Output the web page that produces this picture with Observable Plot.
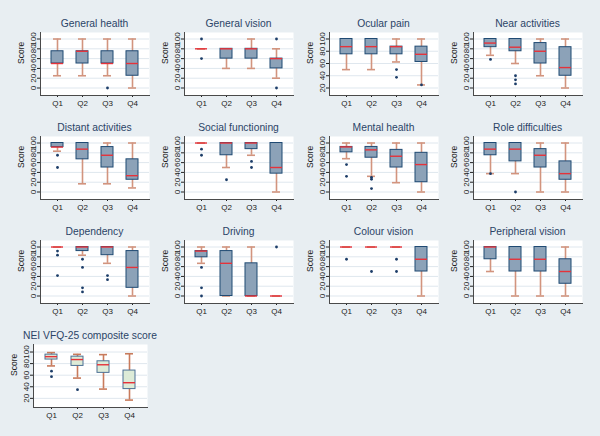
<!DOCTYPE html>
<html>
<head>
<meta charset="utf-8">
<script src="https://cdn.jsdelivr.net/npm/d3@7"></script>
<script src="https://cdn.jsdelivr.net/npm/@observablehq/plot@0.6"></script>
<style>
  body { margin: 0; background: #e8eef2; }
  #chart { position: relative; width: 600px; height: 436px; background: #e8eef2; overflow: hidden;
           font-family: "Liberation Sans", Arial, sans-serif; }
  .ttl { position: absolute; height: 17px; line-height: 17px; font-size: 10.3px; color: #2b4467;
         display: flex; justify-content: center; white-space: nowrap; }
  .pnl { position: absolute; }
</style>
</head>
<body>
<div id="chart"></div>
<script>
const titles = ["General health", "General vision", "Ocular pain", "Near activities",
  "Distant activities", "Social functioning", "Mental health", "Role difficulties",
  "Dependency", "Driving", "Colour vision", "Peripheral vision", "NEI VFQ-25 composite score"];
const quartiles = ["Q1", "Q2", "Q3", "Q4"];

// lower adjacent value, lower hinge, median, upper hinge, upper adjacent value (Q1..Q4)
const whiskerLow = [
  [25, 25, 25, 0], [80, 40, 40, 20], [50, 50, 62.5, 25], [66.7, 50, 25, 0],
  [83.3, 16.7, 16.7, 8.3], [100, 50, 75, 0], [68, 32, 19, 0], [37.5, 37.5, 0, 0],
  [100, 83.3, 66.7, 0], [66.7, 0, 0, 0], [100, 100, 100, 0], [50, 0, 0, 0],
  [76, 55, 36, 17]];
const boxLow = [
  [50, 50, 50, 25], [80, 60, 60, 40], [75, 75, 75, 62.5], [83.3, 75, 50, 25],
  [91.7, 66.7, 50, 25], [100, 75, 87.5, 37.5], [81, 70, 50, 20], [75, 62.5, 50, 25],
  [100, 91.7, 83.3, 16.7], [79, 0, 0, 0], [100, 100, 100, 50], [75, 50, 50, 25],
  [87, 76, 64, 36]];
const medians = [
  [50, 75, 50, 50], [80, 80, 80, 60], [87.5, 87.5, 87.5, 75], [91.7, 83.3, 75, 41.7],
  [91.7, 87.5, 75, 33.3], [100, 100, 100, 50], [92, 86, 73, 56], [87.5, 87.5, 75, 37.5],
  [100, 100, 100, 58.3], [91.7, 66.7, 0, 0], [100, 100, 100, 75], [100, 75, 75, 50],
  [92, 87, 78, 47]];
const boxHigh = [
  [75, 75, 75, 75], [80, 80, 80, 60], [100, 100, 87.5, 87.5], [100, 100, 91.7, 83.3],
  [100, 100, 91.7, 66.7], [100, 100, 100, 100], [92, 92, 86, 80], [100, 100, 87.5, 62.5],
  [100, 100, 100, 91.7], [91.7, 91.7, 66.7, 0], [100, 100, 100, 100], [100, 100, 100, 75],
  [95.5, 92, 84, 68]];
const whiskerHigh = [
  [100, 100, 100, 100], [80, 80, 100, 80], [100, 100, 100, 100], [100, 100, 100, 100],
  [100, 100, 100, 100], [100, 100, 100, 100], [100, 100, 100, 100], [100, 100, 100, 100],
  [100, 100, 100, 100], [100, 100, 100, 0], [100, 100, 100, 100], [100, 100, 100, 100],
  [99, 96, 95.5, 97]];
const outliers = [
  [[], [], [0], []], [[100, 60], [], [], [100, 0]], [[], [], [50, 37.5], [25]],
  [[58.3], [25, 16.7, 8.3], [], []], [[75, 50], [], [], []], [[87.5, 75], [25], [62.5, 50], []],
  [[56, 32], [30, 26, 7], [], []], [[37.5], [0], [], []],
  [[91.7, 83.3, 41.7], [75, 58.3, 16.7, 8.3], [41.7, 33.3], []],
  [[58.3, 16.7, 0], [], [], [100]], [[75], [50], [75, 50], []], [[], [], [], []],
  [[67, 57.5], [35], [], []]];

const ticksFull = [0, 20, 40, 60, 80, 100];
const ticksUpper = [20, 40, 60, 80, 100];

const colLeft = [40, 184, 329, 473];
const plotH = 63;
const chart = document.getElementById("chart");

titles.forEach((title, i) => {
  const row = Math.floor(i / 4), col = i % 4;
  const composite = i === 12;
  const left = composite ? 33 : colLeft[col];
  const plotW = composite ? 114 : 109;
  const top = 32 + row * 104;
  const ticks = (i === 2 || composite) ? ticksUpper : ticksFull;
  const yDomain = composite ? [4.2, 113] : i === 2 ? [7.75, 110.6] : [-15.3, 113.3];
  const whisk = composite ? "#c87b5c" : "#d2947e";

  const rows = quartiles.map((q, j) => ({
    q, lo: whiskerLow[i][j], q1: boxLow[i][j], med: medians[i][j], q3: boxHigh[i][j], hi: whiskerHigh[i][j]
  }));
  const pts = quartiles.flatMap((q, j) => outliers[i][j].map(v => ({q, v})));

  const svg = Plot.plot({
    width: 40 + plotW + 4,
    height: plotH + 17,
    marginLeft: 40, marginRight: 4, marginTop: 0, marginBottom: 17,
    style: {background: "transparent", fontFamily: "'Liberation Sans', Arial, sans-serif", color: "#222"},
    x: {type: "band", domain: quartiles, paddingInner: 0.54, paddingOuter: 0.4, label: null},
    y: {domain: yDomain, label: null},
    marks: [
      Plot.frame({fill: "white", stroke: null}),
      Plot.gridY(ticks, {stroke: "#dfe7ee", strokeOpacity: 1}),
      Plot.ruleX(rows, {x: "q", y1: "lo", y2: "hi", stroke: whisk, strokeWidth: 1.6}),
      Plot.tickY(rows, {x: "q", y: "lo", stroke: whisk, strokeWidth: 1.6, insetLeft: 2, insetRight: 2}),
      Plot.tickY(rows, {x: "q", y: "hi", stroke: whisk, strokeWidth: 1.6, insetLeft: 2, insetRight: 2}),
      Plot.barY(rows.filter(d => d.q3 > d.q1), {
        x: "q", y1: "q1", y2: "q3",
        fill: composite ? "#ddebd7" : "#8ca2b8",
        stroke: composite ? "#4d7196" : "#1f4a73", strokeWidth: 1
      }),
      Plot.tickY(rows, {x: "q", y: "med", stroke: "#e5323a", strokeWidth: 1.4}),
      Plot.dot(pts, {x: "q", y: "v", r: 1.4, fill: "#1c3d68", stroke: null}),
      Plot.axisY({ticks, tickRotate: -90, tickSize: 3, tickPadding: 2, fontSize: 8, label: null}),
      Plot.axisX({tickSize: 2, tickPadding: 3, fontSize: 8, label: null}),
      Plot.frame({anchor: "left", stroke: "#4a4a4a"}),
      Plot.frame({anchor: "bottom", stroke: "#4a4a4a"}),
      Plot.text(["Score"], {frameAnchor: "left", dx: -19, rotate: -90, fontSize: 8.5, fill: "#222"})
    ]
  });

  const t = document.createElement("div");
  t.className = "ttl";
  t.style.left = left + "px";
  t.style.width = plotW + "px";
  t.style.top = (top - 17) + "px";
  t.textContent = title;
  chart.appendChild(t);

  const p = document.createElement("div");
  p.className = "pnl";
  p.style.left = (left - 40) + "px";
  p.style.top = top + "px";
  p.appendChild(svg);
  chart.appendChild(p);
});
</script>
</body>
</html>
